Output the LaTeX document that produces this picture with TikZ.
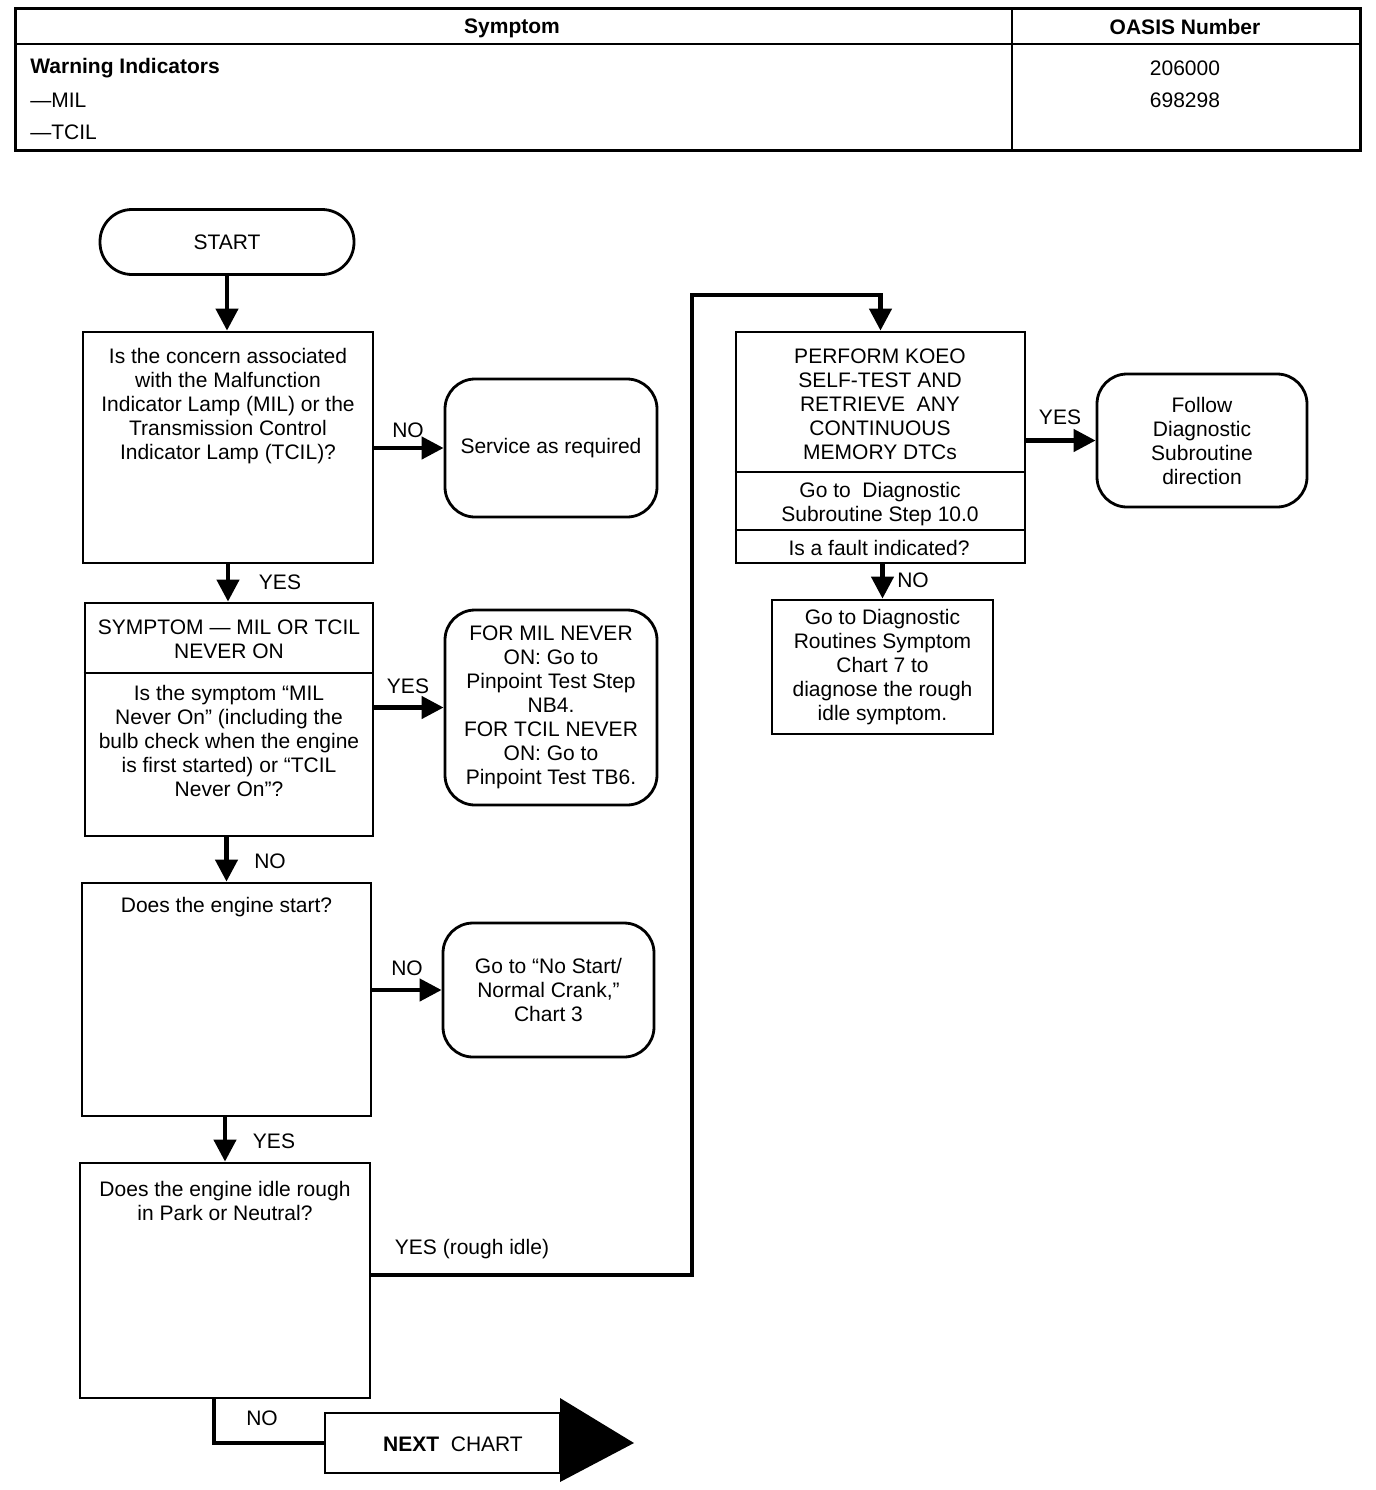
\documentclass[tikz,border=0pt]{standalone}
\usepackage{fontspec}
\setmainfont{Liberation Sans}
\usetikzlibrary{arrows.meta}

\newcommand\chartsize{\fontsize{10.5}{12}\selectfont}

\tikzset{
  qbox/.style={draw, line width=1.4pt, inner sep=0pt},
  ansbox/.style={draw, line width=1.4pt, rounded corners=15pt, align=center, inner sep=1pt},
  flow/.style={line width=2.2pt, -{Triangle[width=11pt,length=11pt]}},
  lbl/.style={inner sep=0pt, align=center},
}

\begin{document}
\begin{tikzpicture}[x=0.5pt, y=-0.5pt, font=\chartsize]
    \useasboundingbox (0,0) rectangle (1376,1490);
    % header table
    \draw [line width=1.5pt] (15,8) rectangle (1360,150);
    \draw [line width=1pt] (15,44) -- (1360,44);
    \draw [line width=1pt] (1012,8) -- (1012,150);
    \node [lbl, font=\chartsize\bfseries] (hsym) at (512,28) {Symptom};
    \node [lbl, font=\chartsize\bfseries] (hoasis) at (1185,27) {OASIS Number};
    \node [lbl, font=\chartsize\bfseries, anchor=west] (warn) at (30,68) {Warning Indicators};
    \node [lbl, anchor=west] (mil) at (30,100) {\textemdash MIL};
    \node [lbl, anchor=west] (tcil) at (30,132) {\textemdash TCIL};
    \node [lbl] (num1) at (1185,68) {206000};
    \node [lbl] (num2) at (1185,100) {698298};

    % left column
    \node [qbox, rounded corners=16pt, minimum width=127pt, minimum height=32.5pt] (start) at (227,242) {START};
    \node [qbox, minimum width=145pt, minimum height=115.5pt] (q1) at (228,447.5) {};
    \node [lbl] (q1t) at (228,406) {Is the concern associated\\with the Malfunction\\Indicator Lamp (MIL) or the\\Transmission Control\\Indicator Lamp (TCIL)?};
    \node [ansbox, minimum width=106pt, minimum height=69pt] (service) at (551,448) {Service as required};

    \node [qbox, minimum width=144pt, minimum height=116.5pt] (q2) at (229,719.5) {};
    \draw [line width=1.4pt] (q2.west |- 0,673) -- (q2.east |- 0,673);
    \node [lbl] (q2h) at (229,639) {SYMPTOM \textemdash{} MIL OR TCIL\\NEVER ON};
    \node [lbl] (q2t) at (229,741) {Is the symptom “MIL\\Never On” (including the\\bulb check when the engine\\is first started) or “TCIL\\Never On”?};
    \node [ansbox, minimum width=106pt, minimum height=97.5pt] (pinpoint) at (551,707.5) {FOR MIL NEVER\\ON: Go to\\Pinpoint Test Step\\NB4.\\FOR TCIL NEVER\\ON: Go to\\Pinpoint Test TB6.};

    \node [qbox, minimum width=144.5pt, minimum height=116.5pt] (q3) at (226.5,999.5) {};
    \node [lbl] (q3t) at (226.5,907) {Does the engine start?};
    \node [ansbox, minimum width=105.5pt, minimum height=67pt] (nostart) at (548.5,990) {Go to “No Start/\\Normal Crank,”\\Chart 3};

    \node [qbox, minimum width=145pt, minimum height=117.5pt] (q4) at (225,1280.5) {};
    \node [lbl] (q4t) at (225,1201) {Does the engine idle rough\\in Park or Neutral?};

    \node [draw, line width=1.4pt, minimum width=117.5pt, minimum height=30pt] (next) at (442.5,1443) {};
    \fill (560,1398) -- (634,1443) -- (560,1482) -- cycle;
    \node [lbl] (nextt) at (453,1444) {\textbf{NEXT}\ \ CHART};

    % right column
    \node [qbox, minimum width=144.5pt, minimum height=115.5pt] (q5) at (880.5,447.5) {};
    \draw [line width=1.4pt] (q5.west |- 0,472) -- (q5.east |- 0,472);
    \draw [line width=1.4pt] (q5.west |- 0,530) -- (q5.east |- 0,530);
    \node [lbl] (q5t) at (880,404.5) {PERFORM KOEO\\SELF-TEST AND\\RETRIEVE\ \ ANY\\CONTINUOUS\\MEMORY DTCs};
    \node [lbl] (q5s) at (880,504) {Go to\ \ Diagnostic\\Subroutine Step 10.0};
    \node [lbl] (q5q) at (879,548) {Is a fault indicated?};
    \node [ansbox, minimum width=105pt, minimum height=66.5pt] (follow) at (1202,440.5) {Follow\\Diagnostic\\Subroutine\\direction};
    \node [qbox, inner sep=2pt, align=center, minimum width=110.5pt, minimum height=67pt] (chart7) at (882.5,667) {Go to Diagnostic\\Routines Symptom\\Chart 7 to\\diagnose the rough\\idle symptom.};

    % connectors
    \draw [flow] (start.south) -- (start.south |- q1.north);
    \draw [flow] (q1.east |- service.west) -- (service.west);
    \draw [flow] (q1.south) -- (q1.south |- q2.north);
    \draw [flow] (q2.east |- pinpoint.west) -- (pinpoint.west);
    \draw [flow] (q2.south -| q3.north) -- (q3.north);
    \draw [flow] (q3.east |- nostart.west) -- (nostart.west);
    \draw [flow] (q3.south -| q4.north) -- (q4.north);
    \coordinate (rbot) at (692,1275);
    \coordinate (rtop) at (692,295);
    \draw [flow] (q4.east |- rbot) -- (rbot) -- (rtop) -| (q5.north);
    \draw [flow] (q5.east |- follow.west) -- (follow.west);
    \draw [flow] (q5.south -| chart7.north) -- (chart7.north);
    \coordinate (nbend) at (214,1443);
    \draw [line width=2.2pt] (q4.south -| nbend) |- (next.west);

    % labels
    \node [lbl] (l1) at (408,430) {NO};
    \node [lbl] (l2) at (280,582) {YES};
    \node [lbl] (l3) at (408,686) {YES};
    \node [lbl] (l4) at (270,861) {NO};
    \node [lbl] (l5) at (407,968) {NO};
    \node [lbl] (l6) at (274,1141) {YES};
    \node [lbl] (l7) at (472,1249) {YES (rough idle)};
    \node [lbl] (l8) at (262,1418) {NO};
    \node [lbl] (l9) at (1060,417) {YES};
    \node [lbl] (l10) at (913,580) {NO};
\end{tikzpicture}
\end{document}
